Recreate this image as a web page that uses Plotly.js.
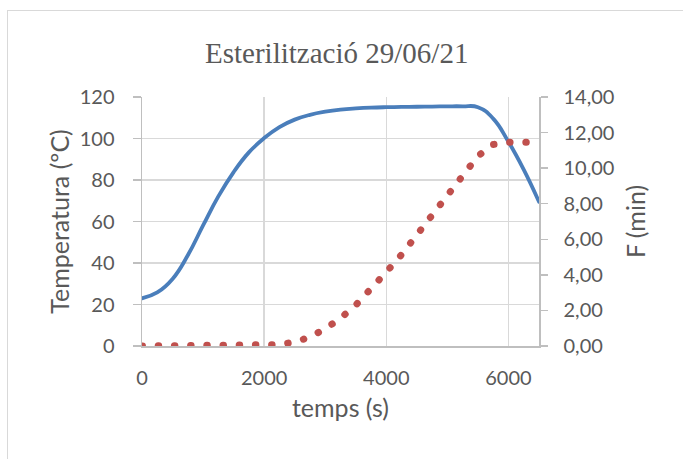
<!DOCTYPE html>
<html>
<head>
<meta charset="utf-8">
<script src="https://cdn.plot.ly/plotly-3.0.1.min.js"></script>
<style>
  html, body { margin: 0; padding: 0; background: #fff; }
  #wrap { position: relative; width: 683px; height: 459px; overflow: hidden; }
  #frame { position: absolute; left: 7px; top: 10px; width: 720px; height: 500px;
           border: 1.5px solid #d9d9d9; box-sizing: border-box; pointer-events: none; }
  #chart { position: absolute; left: 0; top: 0; width: 683px; height: 459px; }
  /* rounded caps so the dotted F curve is drawn as round dots */
  #chart path.js-line { stroke-linecap: round !important; stroke-linejoin: round !important; }
</style>
</head>
<body>
<div id="wrap">
  <div id="chart"></div>
  <div id="frame"></div>
</div>
<script>
// Sterilisation run: time in seconds
const temps = [0, 250, 500, 750, 1000, 1250, 1500, 1750, 2000, 2250, 2500, 2750, 3000,
               3250, 3500, 3750, 4000, 4250, 4500, 4750, 5000, 5250, 5500, 5750, 6000,
               6250, 6500];
// Temperature (ºC)
const temperatura = [23.0, 25.8, 32.3, 43.7, 58.1, 72.1, 83.8, 93.3, 100.2, 105.5, 109.1,
                     111.4, 112.9, 113.9, 114.5, 114.9, 115.1, 115.2, 115.3, 115.4, 115.5,
                     115.5, 115.1, 109.6, 98.4, 85.0, 69.5];
// Accumulated lethality F (min)
const F = [0, 0, 0, 0, 0, 0, 0, 0, 0.01, 0.08, 0.22, 0.50, 0.97, 1.56, 2.30, 3.19, 4.16,
           5.14, 6.24, 7.35, 8.45, 9.59, 10.68, 11.33, 11.45, 11.45, 11.45];

const titleText = 'Esterilització 29/06/21';
const xTitle = 'temps (s)';
const yTitle = 'Temperatura (ºC)';
const y2Title = 'F (min)';

const grey = '#595959';
const tickFont = { family: 'Lato, sans-serif', size: 20, color: grey };
const axTitleFont = { family: 'Lato, sans-serif', size: 25, color: grey };

const data = [
  {
    x: temps, y: temperatura, type: 'scatter', mode: 'lines', yaxis: 'y',
    line: { color: '#4a7ebb', width: 3.8, shape: 'spline', smoothing: 1.3 },
    hoverinfo: 'skip'
  },
  {
    x: temps, y: F, type: 'scatter', mode: 'lines', yaxis: 'y2',
    line: { color: '#c0504d', width: 7, dash: '0.5px,15.7px' },
    hoverinfo: 'skip'
  }
];

const layout = {
  width: 683, height: 459,
  margin: { l: 142, r: 144, t: 97, b: 113, pad: 0 },
  paper_bgcolor: 'rgba(0,0,0,0)',
  plot_bgcolor: '#fff',
  separators: ',.',
  showlegend: false,
  title: {
    text: titleText,
    font: { family: '"Liberation Serif", "Times New Roman", serif', size: 29, color: grey },
    x: 0.493, xanchor: 'center', y: 0.862, yanchor: 'bottom'
  },
  xaxis: {
    range: [0, 6500], dtick: 2000, tick0: 0,
    showgrid: true, gridcolor: '#d9d9d9', gridwidth: 1.5,
    showline: true, linecolor: '#bfbfbf', linewidth: 1.5,
    zeroline: false, ticks: '', ticklabelstandoff: 13,
    tickfont: tickFont,
    title: { text: xTitle, font: axTitleFont, standoff: 12 }
  },
  yaxis: {
    range: [0, 120], dtick: 20, tick0: 0,
    showgrid: true, gridcolor: '#d9d9d9', gridwidth: 1.5,
    showline: true, linecolor: '#bfbfbf', linewidth: 1.5,
    zeroline: false, ticks: 'outside', ticklen: 8, tickcolor: '#bfbfbf', tickwidth: 1.5,
    ticklabelstandoff: 14,
    tickfont: tickFont,
    title: { text: yTitle, font: axTitleFont, standoff: 3 }
  },
  yaxis2: {
    range: [0, 14], dtick: 2, tick0: 0, tickformat: '.2f',
    overlaying: 'y', side: 'right',
    showgrid: false, showline: true, linecolor: '#bfbfbf', linewidth: 1.5,
    zeroline: false, ticks: 'outside', ticklen: 7, tickcolor: '#bfbfbf', tickwidth: 1.5,
    ticklabelstandoff: 12,
    tickfont: tickFont,
    title: { text: y2Title, font: axTitleFont, standoff: 14 }
  }
};

Plotly.newPlot('chart', data, layout, { staticPlot: true, displayModeBar: false }).then(gd => {
  gd.querySelectorAll('path.js-line').forEach(p => {
    p.style.setProperty('stroke-linecap', 'round');
  });
});
</script>
</body>
</html>
